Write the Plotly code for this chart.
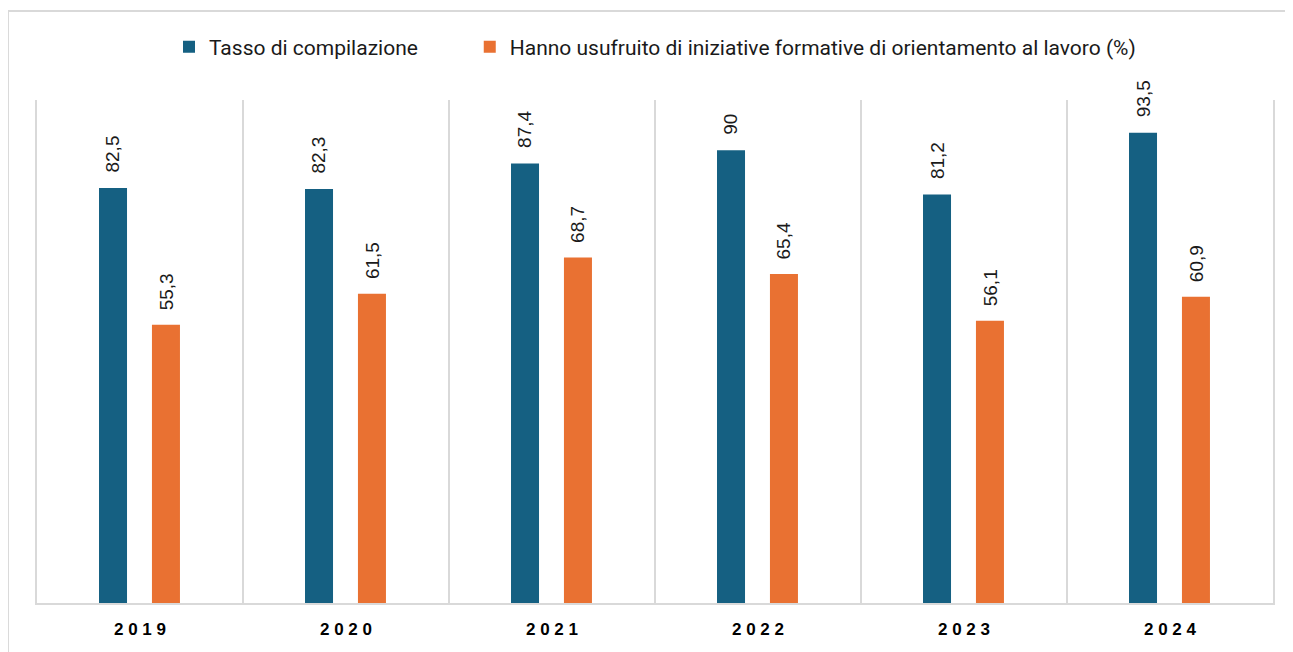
import plotly.graph_objects as go

years = ["2019", "2020", "2021", "2022", "2023", "2024"]
tasso = [82.5, 82.3, 87.4, 90, 81.2, 93.5]
orientamento = [55.3, 61.5, 68.7, 65.4, 56.1, 60.9]

names = ["Tasso di compilazione" + "\u00a0" * 9,
         "Hanno usufruito di iniziative formative di orientamento al lavoro (%)"]
colors = ["#156082", "#E97132"]


def fmt(v):
    s = f"{v:g}"
    return s.replace(".", ",")


fig = go.Figure()
for vals, name, color, off in [(tasso, names[0], colors[0], -0.199),
                               (orientamento, names[1], colors[1], 0.058)]:
    fig.add_trace(go.Bar(
        x=years, y=vals, name=name,
        marker=dict(color=color, line=dict(width=0)),
        width=0.136, offset=off,
    ))
    for i, v in enumerate(vals):
        # category index as x (year strings would be read as numbers)
        fig.add_annotation(
            x=i + off + 0.068, y=v, text=fmt(v), textangle=-90,
            showarrow=False, yanchor="bottom", yshift=13,
            font=dict(family="Liberation Sans, Arial", size=19, color="#1a1a1a"),
        )

# outer frame (top and left edges visible in the source)
fig.add_shape(type="line", xref="paper", yref="paper",
              x0=-0.0235, x1=1.1, y0=1.177, y1=1.177,
              line=dict(color="#d9d9d9", width=2))
fig.add_shape(type="line", xref="paper", yref="paper",
              x0=-0.0235, x1=-0.0235, y0=-0.2, y1=1.177,
              line=dict(color="#d9d9d9", width=2))

fig.update_layout(
    width=1293, height=652,
    margin=dict(l=29, r=28, t=92, b=57, autoexpand=False),
    plot_bgcolor="white", paper_bgcolor="white",
    barmode="group",
    showlegend=True,
    legend=dict(orientation="h", x=0.5, xanchor="center", y=1.105, yanchor="middle",
                bgcolor="rgba(0,0,0,0)",
                font=dict(family="Roboto", size=21, color="#1a1a1a")),
    xaxis=dict(
        type="category", tickson="boundaries", showgrid=True,
        gridcolor="#d9d9d9", gridwidth=2,
        showline=True, linecolor="#d9d9d9", linewidth=2,
        ticks="", ticklen=0, tickangle=0, ticklabelstandoff=10,
        range=[-0.5, 5.5],
        tickvals=years, ticktext=[" ".join(y) for y in years],
        tickfont=dict(family="Liberation Sans, Arial", size=17, color="black",
                      weight="bold"),
    ),
    yaxis=dict(
        range=[0, 100], showgrid=False, showticklabels=False, zeroline=False,
        showline=True, mirror=True, linecolor="#d9d9d9", linewidth=2, ticks="",
    ),
)

fig.write_html("out.html")
